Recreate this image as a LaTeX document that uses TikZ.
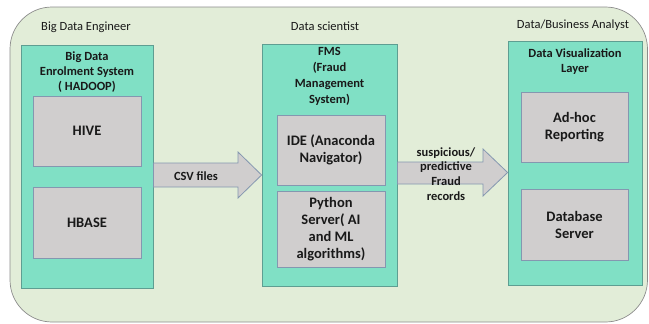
\documentclass[tikz,border=0pt]{standalone}
\usepackage{fontspec}
\setmainfont{Carlito}
\definecolor{outerfill}{HTML}{E2EDD8}
\definecolor{outerline}{HTML}{8C8C8C}
\definecolor{tealfill}{HTML}{80E0C5}
\definecolor{tealline}{HTML}{5E9E92}
\definecolor{grayfill}{HTML}{D0CECE}
\definecolor{grayline}{HTML}{8497B0}
\begin{document}
\begin{tikzpicture}[x=1pt,y=-1pt,
  tealbox/.style={draw=tealline, fill=tealfill, line width=0.8pt, inner sep=0pt},
  graybox/.style={draw=grayline, fill=grayfill, line width=0.8pt, inner sep=0pt, align=center,
    font=\fontsize{14.5}{17}\selectfont\bfseries, text=black!90},
  titletext/.style={align=center, font=\fontsize{12.5}{15}\selectfont\bfseries, text=black!90},
  roletext/.style={font=\fontsize{12.5}{14}\selectfont, text=black!90},
  arrowshape/.style={draw=grayline, fill=grayfill, line width=0.8pt, line join=miter},
  arrowtext/.style={align=center, font=\fontsize{12.5}{14.7}\selectfont\bfseries, text=black!90}]
\useasboundingbox (0,0) rectangle (649,324);
% outer container
\draw[draw=outerline, fill=outerfill, line width=0.7pt, rounded corners=42pt] (10,7) rectangle (647.5,322);
% role labels
\node[roletext] (r1) at (86,27) {Big Data Engineer};
\node[roletext] (r2) at (325,26) {Data scientist};
\node[roletext] (r3) at (573,25) {Data/Business Analyst};
% teal boxes
\node[tealbox, minimum width=132pt, minimum height=243pt] (L) at (87,166.5) {};
\node[tealbox, minimum width=135pt, minimum height=242pt] (M) at (329.5,165) {};
\node[tealbox, minimum width=134pt, minimum height=244pt] (R) at (575,163) {};
% titles
\node[titletext] (Lt) at (87,72) {Big Data\\Enrolment System\\( HADOOP)};
\node[titletext, font=\fontsize{12.5}{16}\selectfont\bfseries] (Mt) at (329.5,76.5) {FMS\\(Fraud\\Management\\System)};
\node[titletext] (Rt) at (575,61.5) {Data Visualization\\Layer};
% gray boxes
\node[graybox, minimum width=108pt, minimum height=70pt] (hive) at (87,131) {HIVE};
\node[graybox, minimum width=108pt, minimum height=71pt] (hbase) at (87,222.5) {HBASE};
\node[graybox, minimum width=108pt, minimum height=70pt] (ide) at (331,150) {IDE (Anaconda\\Navigator)};
\node[graybox, minimum width=108pt, minimum height=76pt] (py) at (331,229) {Python\\Server( AI\\and ML\\algorithms)};
\node[graybox, minimum width=107pt, minimum height=70pt] (adhoc) at (574.5,127) {Ad-hoc\\Reporting};
\node[graybox, minimum width=107pt, minimum height=71pt] (db) at (574.5,224.5) {Database\\Server};
% block arrows
\coordinate (csvtip) at (M.west |- 0,175);
\draw[arrowshape] (L.east |- 0,163) -- (238,163) -- (238,152) -- (csvtip) -- (238,198) -- (238,187) -- (L.east |- 0,187) -- cycle;
\node[arrowtext] (csv) at (196,176) {CSV files};
\coordinate (frtip) at (R.west |- 0,172.5);
\draw[arrowshape] (M.east |- 0,162) -- (483,162) -- (483,149) -- (frtip) -- (483,196) -- (483,184) -- (M.east |- 0,184) -- cycle;
\node[arrowtext] (fr) at (446,174) {suspicious/\\predictive\\Fraud\\records};
\end{tikzpicture}
\end{document}
